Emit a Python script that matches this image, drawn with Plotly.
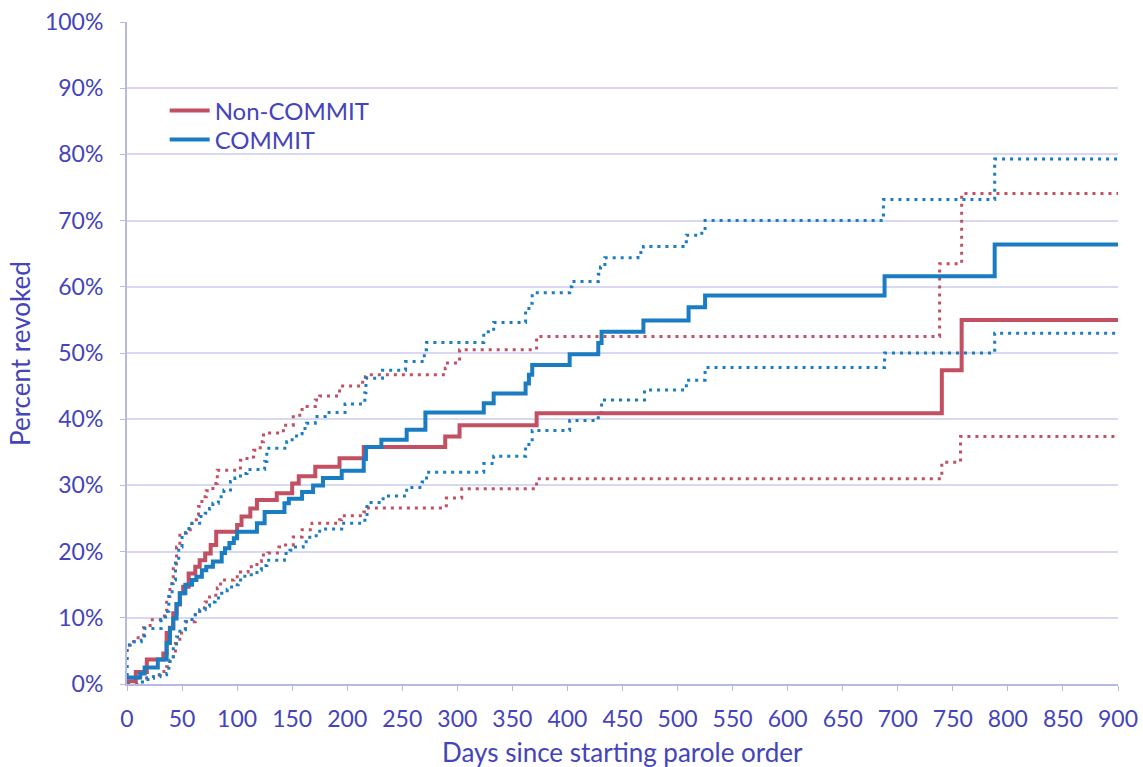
import plotly.graph_objects as go

# Non-COMMIT (estimate, upper CI, lower CI) - step functions: value holds from day until next day
nc_days = [0, 8, 18, 33, 36, 39, 42, 45, 48, 51, 56, 62, 66, 71, 76, 81, 100, 104, 112, 118, 136, 150, 156, 171, 193, 215, 289, 302, 372, 740, 758, 900]
nc_pct = [0.4, 1.8, 3.7, 4.6, 7.7, 8.5, 10.7, 12.0, 13.7, 14.7, 16.7, 17.7, 18.7, 19.7, 21.0, 23.0, 24.0, 25.3, 26.5, 27.8, 28.8, 30.3, 31.4, 32.8, 34.1, 35.8, 37.4, 39.1, 40.9, 47.4, 55.0, 55.0]

ncu_days = [0, 0, 3, 8, 15, 21, 34, 36, 39, 42, 45, 48, 54, 59, 65, 68, 72, 78, 82, 103, 109, 115, 121, 124, 142, 151, 159, 171, 175, 193, 214, 217, 289, 291, 302, 372, 738, 758, 900]
ncu_pct = [0, 5.9, 6.4, 7.0, 8.5, 9.7, 11.0, 13.2, 15.2, 17.7, 20.7, 22.8, 23.3, 24.8, 26.8, 28.3, 29.2, 30.3, 32.3, 33.8, 34.3, 35.3, 36.6, 37.9, 39.1, 40.6, 41.9, 42.9, 43.5, 45.0, 46.4, 46.7, 47.7, 48.5, 50.5, 52.5, 63.5, 74.1, 74.1]

ncl_days = [0, 9, 24, 30, 36, 39, 44, 48, 53, 62, 66, 71, 75, 82, 85, 97, 103, 110, 118, 122, 128, 138, 144, 151, 159, 168, 193, 195, 215, 218, 290, 304, 372, 740, 757, 900]
ncl_pct = [0, 0.9, 1.4, 1.9, 2.6, 4.1, 6.1, 7.7, 9.4, 10.7, 11.5, 12.4, 13.4, 14.5, 15.7, 16.2, 16.9, 17.7, 18.5, 19.5, 19.8, 20.7, 21.0, 22.2, 23.3, 24.3, 24.8, 25.4, 26.0, 26.6, 28.1, 29.5, 31.0, 33.5, 37.4, 37.4]

# COMMIT (estimate, upper CI, lower CI)
c_days = [0, 12, 16, 28, 36, 39, 42, 45, 48, 53, 59, 63, 68, 72, 78, 86, 89, 93, 97, 100, 118, 125, 143, 147, 159, 169, 178, 195, 215, 217, 231, 254, 271, 324, 333, 362, 365, 368, 402, 428, 431, 469, 510, 525, 688, 788, 900]
c_pct = [1.0, 1.6, 2.5, 3.7, 6.2, 8.4, 9.9, 12.1, 13.7, 15.0, 15.7, 16.2, 17.2, 17.7, 18.5, 19.8, 20.5, 21.3, 22.0, 23.0, 24.3, 26.0, 27.3, 28.0, 29.0, 30.0, 31.1, 32.2, 34.0, 35.8, 36.9, 38.4, 41.0, 42.4, 43.9, 45.4, 46.7, 48.2, 49.8, 51.5, 53.2, 54.9, 56.9, 58.7, 61.6, 66.4, 66.4]

cu_days = [0, 0, 6, 13, 16, 31, 35, 38, 41, 44, 47, 50, 53, 59, 66, 71, 75, 78, 83, 88, 94, 98, 103, 109, 125, 127, 145, 150, 154, 159, 163, 171, 180, 198, 216, 217, 232, 253, 270, 272, 324, 333, 362, 365, 368, 402, 404, 428, 430, 434, 464, 469, 505, 508, 522, 525, 687, 788, 900]
cu_pct = [0, 5.9, 6.4, 6.6, 8.4, 9.7, 11.0, 13.2, 15.7, 18.7, 20.7, 22.8, 23.5, 24.3, 25.3, 25.8, 26.5, 27.3, 28.3, 29.3, 30.6, 31.1, 31.8, 32.4, 33.6, 35.6, 36.6, 37.2, 37.8, 38.6, 39.4, 40.4, 41.0, 42.3, 44.0, 46.2, 47.4, 48.7, 50.5, 51.6, 53.2, 54.6, 56.5, 57.5, 59.1, 60.0, 60.8, 61.9, 63.0, 64.4, 65.2, 66.1, 66.8, 67.8, 68.5, 70.0, 73.2, 79.3, 79.3]

cl_days = [0, 14, 19, 24, 30, 36, 38, 39, 42, 45, 48, 53, 59, 62, 66, 71, 75, 80, 86, 91, 95, 101, 107, 118, 122, 127, 143, 148, 153, 160, 166, 175, 195, 216, 218, 231, 236, 254, 268, 272, 324, 333, 362, 365, 368, 402, 428, 431, 470, 508, 525, 688, 788, 900]
cl_pct = [0, 0.3, 0.9, 1.1, 1.4, 1.6, 2.6, 3.6, 5.6, 7.1, 8.2, 9.4, 10.2, 10.7, 11.2, 11.8, 12.4, 13.0, 13.7, 14.3, 15.0, 15.7, 16.5, 17.2, 17.9, 18.7, 19.7, 20.2, 20.7, 21.5, 22.4, 23.4, 24.3, 25.0, 27.4, 28.0, 28.4, 29.7, 30.5, 32.0, 33.3, 34.4, 35.5, 36.9, 38.3, 39.8, 41.0, 42.9, 44.4, 45.9, 47.8, 50.0, 53.0, 53.0]

x_ticks = list(range(0, 901, 50))
y_ticks = list(range(0, 101, 10))
y_tick_labels = [f"{v}%" for v in y_ticks]
x_title = "Days since starting parole order"
y_title = "Percent revoked"

RED = "#C24F62"
BLUE = "#1A7DC2"
TXT = "#4444BB"
AXIS = "#B8B8E4"
GRID = "#D8D8F2"
DOT = "3px,5px"

fig = go.Figure()

def add(x, y, color, dotted, name, show, legend="legend"):
    fig.add_trace(go.Scatter(
        x=x, y=y, mode="lines", name=name, showlegend=show, legend=legend,
        line=dict(color=color, width=3 if dotted else 4, shape="hv",
                  dash=DOT if dotted else "solid"),
        hoverinfo="skip"))

add(ncu_days, ncu_pct, RED, True, "Non-COMMIT upper", False)
add(ncl_days, ncl_pct, RED, True, "Non-COMMIT lower", False)
add(cu_days, cu_pct, BLUE, True, "COMMIT upper", False)
add(cl_days, cl_pct, BLUE, True, "COMMIT lower", False)
add(nc_days, nc_pct, RED, False, "Non-COMMIT", True, "legend")
add(c_days, c_pct, BLUE, False, "COMMIT", True, "legend2")

leg_common = dict(xanchor="left", yanchor="middle", bgcolor="rgba(0,0,0,0)",
                  font=dict(size=24, color=TXT), itemwidth=40)

fig.update_layout(
    width=1143, height=767,
    margin=dict(l=127, r=25, t=22, b=83),
    paper_bgcolor="white", plot_bgcolor="white",
    font=dict(family="Lato, sans-serif", size=23, color=TXT),
    showlegend=True,
    legend=dict(x=0.038, y=(684 - 111) / 662, **leg_common),
    legend2=dict(x=0.038, y=(684 - 140) / 662, **leg_common),
    annotations=[
        dict(text=x_title, xref="paper", yref="paper", x=0.5, y=(684 - 752) / 662,
             xanchor="center", yanchor="middle", showarrow=False,
             font=dict(size=26, color=TXT)),
        dict(text=y_title, xref="paper", yref="paper", x=(20 - 127) / 991, y=0.4985,
             xanchor="center", yanchor="middle", textangle=-90, showarrow=False,
             font=dict(size=26, color=TXT)),
    ],
)
fig.update_xaxes(
    range=[0, 900], tickvals=x_ticks, ticktext=[str(v) for v in x_ticks],
    showgrid=False, zeroline=False, automargin=False,
    showline=True, linecolor=AXIS, linewidth=2,
    ticks="outside", ticklen=5, tickcolor=AXIS, tickwidth=1,
    ticklabelstandoff=8,
    tickfont=dict(size=23, color=TXT),
)
fig.update_yaxes(
    range=[0, 100], tickvals=y_ticks, ticktext=y_tick_labels,
    showgrid=True, gridcolor=GRID, gridwidth=2, zeroline=False, automargin=False,
    showline=True, linecolor=AXIS, linewidth=2,
    ticks="outside", ticklen=5, tickcolor=AXIS, tickwidth=1,
    ticklabelstandoff=12,
    tickfont=dict(size=23, color=TXT),
)

fig.write_html("out.html", config={"displayModeBar": False},
               post_script="document.body.style.margin='0';")
